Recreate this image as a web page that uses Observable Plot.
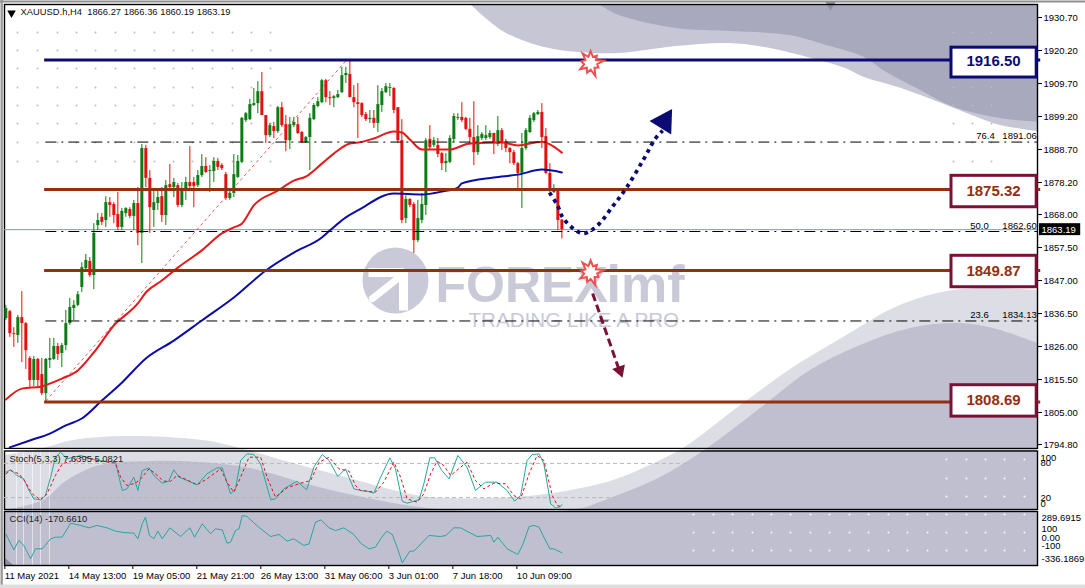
<!DOCTYPE html>
<html><head><meta charset="utf-8">
<script src="https://cdn.jsdelivr.net/npm/d3@7"></script>
<script src="https://cdn.jsdelivr.net/npm/@observablehq/plot@0.6"></script>
<style>html,body{margin:0;background:#fff;width:1085px;height:588px;overflow:hidden}#c{position:relative;width:1085px;height:588px}svg{position:absolute;left:0;background:transparent;max-width:none}</style>
</head><body><div id="c"></div>
<script>
const barOpen=[1834.9,1837.1,1830.1,1829.5,1835.2,1833.3,1822.2,1815.2,1821.9,1817.1,1811.0,1821.6,1821.9,1826.0,1823.8,1826.3,1833.3,1838.1,1839.1,1844.8,1850.8,1853.1,1848.6,1864.5,1867.1,1866.1,1871.8,1871.2,1868.0,1863.9,1868.3,1869.6,1867.4,1871.5,1862.0,1889.0,1879.5,1869.3,1871.5,1873.7,1867.7,1877.5,1876.6,1877.2,1870.9,1875.6,1878.2,1878.2,1877.2,1880.4,1883.3,1881.7,1881.7,1884.9,1883.6,1880.7,1873.1,1874.7,1879.8,1884.6,1897.9,1898.2,1902.7,1903.3,1907.1,1899.5,1893.1,1896.0,1894.4,1902.0,1896.6,1891.5,1896.3,1896.6,1894.1,1890.9,1892.5,1898.2,1902.4,1903.6,1910.6,1905.2,1904.9,1905.2,1906.8,1912.2,1912.6,1905.2,1903.6,1903.3,1899.8,1898.2,1898.6,1897.0,1902.7,1906.8,1908.1,1908.1,1902.0,1891.5,1866.7,1872.8,1871.2,1859.7,1866.1,1870.9,1891.9,1890.0,1890.0,1887.4,1884.2,1884.6,1891.9,1898.6,1898.9,1898.6,1895.1,1892.5,1887.7,1892.2,1892.2,1892.5,1893.8,1890.3,1894.7,1891.2,1889.0,1887.7,1884.2,1881.1,1889.0,1894.1,1897.9,1899.8,1900.5,1892.8,1881.1,1875.0,1875.6,1866.27];
const barHigh=[1839.1,1837.5,1832.0,1835.9,1843.5,1833.6,1822.8,1822.8,1822.2,1822.2,1822.2,1828.6,1828.6,1827.0,1827.0,1837.5,1841.3,1840.6,1843.5,1852.7,1855.3,1854.3,1865.1,1868.3,1868.3,1873.7,1873.4,1871.8,1875.0,1869.9,1870.2,1870.2,1872.5,1876.6,1890.3,1890.0,1882.0,1875.6,1875.6,1876.6,1878.8,1883.9,1879.5,1877.9,1878.2,1879.8,1889.6,1879.8,1882.0,1887.1,1886.1,1883.6,1886.1,1885.8,1884.2,1881.4,1875.6,1887.1,1886.8,1898.9,1900.5,1904.6,1908.1,1910.3,1913.2,1899.5,1897.0,1897.3,1902.4,1903.6,1899.5,1898.9,1898.9,1898.9,1894.4,1892.8,1900.1,1903.3,1905.2,1911.0,1911.0,1907.1,1905.9,1907.5,1914.8,1914.8,1917.0,1909.0,1909.7,1903.6,1900.5,1901.1,1901.1,1909.0,1908.1,1909.7,1909.7,1908.4,1902.0,1898.2,1874.0,1873.1,1871.8,1872.5,1874.7,1892.2,1896.3,1892.5,1892.2,1887.7,1887.4,1893.1,1900.1,1900.1,1903.6,1898.9,1898.6,1903.9,1896.3,1894.1,1896.3,1894.7,1893.8,1899.2,1895.4,1891.9,1889.3,1888.4,1884.6,1893.8,1895.4,1899.5,1900.5,1901.1,1903.3,1895.4,1884.2,1877.5,1876.0,1866.36];
const barLow=[1834.3,1828.9,1825.7,1827.0,1820.9,1818.7,1813.0,1813.3,1813.0,1810.4,1808.2,1819.0,1821.6,1821.6,1819.3,1824.7,1832.7,1834.3,1838.7,1843.2,1850.5,1848.0,1844.1,1862.9,1864.5,1863.9,1867.1,1865.1,1862.9,1862.9,1867.1,1866.7,1862.9,1858.1,1852.4,1876.6,1862.0,1863.9,1869.3,1865.5,1864.5,1875.6,1873.4,1870.2,1870.2,1872.5,1876.3,1870.2,1876.6,1879.8,1881.1,1875.0,1878.2,1882.0,1882.0,1872.5,1872.5,1873.4,1879.5,1884.2,1897.3,1897.9,1902.4,1900.1,1899.5,1890.6,1892.5,1892.2,1893.8,1895.7,1888.0,1888.7,1895.7,1893.5,1890.6,1890.6,1882.0,1897.9,1902.0,1903.3,1903.6,1902.7,1902.0,1904.9,1906.5,1909.7,1905.2,1902.0,1892.2,1898.9,1897.6,1897.0,1895.4,1894.1,1900.5,1906.5,1905.5,1900.1,1890.6,1865.1,1865.1,1870.2,1855.6,1859.1,1865.1,1867.7,1888.4,1889.3,1886.1,1882.0,1881.4,1884.2,1890.9,1897.9,1897.3,1894.7,1890.0,1883.6,1886.8,1891.5,1891.5,1891.9,1887.1,1889.6,1888.4,1887.7,1884.2,1883.6,1876.3,1869.9,1888.4,1893.8,1897.3,1899.5,1889.0,1880.7,1875.0,1874.7,1862.9,1860.19];
const barClose=[1838.1,1830.1,1829.8,1835.2,1833.3,1824.7,1815.2,1821.9,1815.2,1811.0,1821.9,1822.2,1826.0,1823.5,1826.3,1833.3,1838.4,1839.1,1842.5,1851.1,1853.4,1848.6,1862.0,1866.1,1865.5,1871.8,1870.9,1867.7,1863.9,1869.0,1869.9,1867.4,1871.5,1862.0,1889.0,1879.5,1870.2,1871.8,1873.4,1867.7,1877.2,1876.6,1878.2,1870.9,1875.6,1878.2,1876.9,1876.9,1880.4,1883.3,1881.4,1882.0,1884.9,1883.0,1882.6,1873.1,1874.7,1880.7,1884.9,1898.6,1900.1,1903.0,1903.3,1907.1,1899.5,1893.1,1896.3,1894.4,1902.0,1896.3,1891.5,1896.6,1897.3,1893.8,1890.9,1892.5,1898.6,1902.7,1903.9,1910.6,1905.2,1904.9,1905.5,1906.2,1912.2,1912.9,1905.2,1903.6,1903.0,1899.5,1898.2,1898.6,1897.0,1903.0,1907.1,1908.7,1908.4,1901.1,1891.5,1866.1,1872.8,1870.9,1859.7,1866.7,1871.2,1891.5,1889.3,1891.5,1887.1,1884.2,1884.9,1892.2,1899.2,1898.9,1897.9,1895.1,1892.5,1887.7,1892.8,1893.5,1893.1,1893.8,1890.6,1894.7,1890.9,1889.0,1887.7,1884.2,1881.1,1889.0,1894.7,1898.6,1900.1,1900.5,1892.5,1881.1,1875.6,1876.0,1866.1,1863.19];

const redMaBar=[0,4,9,11,14,18,22,27,33,35,39,43,49,54,57,59,62,68,72,75,79,82,86,88,92,97,99,101,104,111,116,124,128,134,136,139];
const redMaVal=[1809.1,1812.6,1813.3,1814.2,1815.8,1818.4,1824.1,1832.7,1839.7,1843.2,1847.0,1851.1,1856.6,1862.0,1863.9,1865.1,1870.9,1875.6,1878.8,1880.1,1884.2,1887.4,1890.6,1890.9,1892.2,1894.4,1894.1,1891.9,1888.7,1888.7,1890.6,1890.9,1890.0,1891.2,1890.3,1887.7];
const blueMaBar=[1,6,11,15,19,24,29,35,42,49,57,65,72,79,81,85,88,97,104,109,113,114,122,128,134,139];
const blueMaVal=[1793.9,1796.1,1798.3,1800.9,1803.1,1808.8,1814.5,1822.2,1827.9,1834.3,1841.6,1850.2,1855.9,1860.7,1862.9,1867.1,1869.3,1874.7,1874.4,1875.3,1876.6,1877.9,1879.8,1880.7,1882.3,1881.4];

const stochKBar=[0,1.2,2.8,4.5,5.8,7,8.7,9.9,11.2,12.4,13.7,15.3,18.7,22.8,27.4,29.1,30.3,32,33,34.1,35.8,37,39.1,40.7,42,43.3,45.3,47.8,50.3,52.8,54.1,56.2,57.4,58.7,60.3,62,63.7,66.2,67.4,69.5,72.8,75.2,77,79.1,80.8,83,84.9,87,88.7,90.3,92,93.7,96,97.4,99.1,100.3,103.3,104.5,106,107.2,109,110.8,113,115.3,117.4,119.9,122.8,125.3,127.2,128.7,130.3,131.6,133.3,134.5,136.2,137.5,138.7,139];
const stochKVal=[64.6,68.7,58.8,52.9,32.5,17.8,16.1,23.7,55.8,90.9,99.7,88,93.9,85.1,82.2,32.5,35.4,55.8,32.5,67.5,72.2,58.8,45.3,48.8,68.7,55.8,50,42.4,61.7,72.2,72.2,26.6,35.4,85.1,96.8,95.6,79.2,16.1,17.8,35.4,48.8,33.6,73.4,95.6,85.1,57,70.5,35.4,32.5,31.3,27.8,55.8,89.8,70.5,13.7,10.2,16.1,44.2,89.8,89.8,67.5,52.9,93.9,73.4,32.5,47.1,47.1,32.5,13.7,23.7,85.1,95.6,96.8,79.2,9.1,1.5,4.4,7.64];
const stochDBar=[0,1.2,3.3,4.9,6.6,8.7,10.3,12.4,14.1,16.2,19.5,23.7,27.4,28.7,30.3,32.4,33.7,35.8,37.4,39.5,41.2,42.8,45.3,47.8,50.3,53.7,55.3,57,58.7,60.8,63.7,65.3,67.4,70.3,73.7,76.2,78.3,80.8,83.3,85.8,87.4,88.7,90.3,92.4,94.5,97,98.7,100.3,102.8,104.5,106.2,107.8,109.5,111.2,113.7,115.3,117.4,119.5,122,124.9,127,128.7,130.8,132.8,134.5,136.6,137.9,138.7,139];
const stochDVal=[61.7,67.5,61.7,47.1,26.6,16.1,26.6,58.8,79.2,83.9,92.1,83.9,80.4,55.8,41.2,45.3,52.9,70.5,61.7,48.8,48.8,58.8,51.2,42.4,52.9,70.5,47.1,29.5,55.8,90.9,90.9,55.8,20.8,37.1,45.3,50,82.2,90.9,70.5,66.4,41.2,32.5,31.3,29.5,47.1,82.2,55.8,17.8,12,26.6,61.7,83.9,76.3,58.8,73.4,82.2,50,35.4,45.3,44.2,23.7,17.8,61.7,93.9,85.1,23.7,6.1,4.4,5.08];
const cciBar=[0,2,3.25,4.5,6.2,7.4,9.1,11.2,12.4,14.1,16.2,18.7,20.8,22.8,25.3,27.4,29.5,32,33,34.1,34.9,35.9,37,38,39.1,41,43.7,46,47.2,49.1,51.2,52.4,54.1,55.3,56.2,57.4,58.3,59.1,60.3,63.2,66.2,68.3,70.3,72,74.5,75.8,77.4,78.8,80.8,82.4,84.5,87,88.7,90.8,92.4,93.7,95.2,96.6,97.8,99.1,101,102,105.8,108.7,110,112,113.7,117.8,121.2,122,123,125.3,128,129.3,130.8,132,133.3,134.5,136,137,138.7,139];
const cciVal=[41,-139,-34,-90,-241,-128,-128,-15,4,4,162,136,109,136,109,72,56,49,-15,154,230,23,-15,72,-15,109,11,109,4,154,41,98,86,-64,-53,79,98,249,237,117,11,34,-41,-15,-90,-72,173,200,109,79,109,34,-64,-128,-109,-15,72,34,-109,-286,-154,-154,23,11,23,109,109,11,23,-53,4,-128,-192,-72,124,136,117,4,-128,-128,-166,-170.66];

const tickPrices=[1930.70,1920.20,1909.70,1899.20,1888.70,1878.20,1868.00,1857.50,1847.00,1836.50,1826.00,1815.50,1805.00,1794.80];
const timeTickBars=[0,16,32,48,64,80,96,112,128];
const timeTickLabels=["11 May 2021","14 May 13:00","19 May 05:00","21 May 21:00","26 May 13:00","31 May 06:00","3 Jun 01:00","7 Jun 18:00","10 Jun 09:00"];

const blueLabel=[1916.50];
const brownLabels=[1875.32,1849.87,1808.69];
const blueLineAt=[1917.2];
const brownLineAt=[1875.95,1850.2,1808.35];
const fibLevels=[1891.06,1862.60,1834.13];
const fibNames=["76.4","50.0","23.6"];
const fibNameBars=[247.2,245.7,245.7];
const lastPrice=1863.19;
const trendBars=[10,85], trendPrices=[1808.69,1916.9];
const starBars=[146.2,146.2], starPrices=[1916.2,1849.6];
const upPathBars=[135.9,137.9,139.4,142.9,144.7,147.9,151.7,155.2,159.4,162.4,164.2];
const upPathPrices=[1875.0,1870.9,1866.7,1862.6,1862.0,1864.5,1870.6,1876.6,1885.5,1892.2,1894.7];
const downPathBars=[146.7,153.2], downPathPrices=[1842.9,1819.0];

// backdrop wave outlines and dot rows
const topLightX=[471,488,506,544,578,619,676,728,770,811,845,864,901,954,977,1000,1037];
const topLightY=[5,20,33,47,52,53,46,43,48,58,68,77,88,108,117,125,131];
const topDarkX=[600,619,676,732,789,826,864,883,920,954,1000,1037];
const topDarkY=[5,15,28,31,35,45,57,70,90,107,118,122];
const lowLightX=[4,43,73,125,203,240,300,360,393,430,490,553,613,660,683,743,793,843,893,937,977,1037];
const lowLightY=[455,448,440,436,440,448,465,481,490,497,498,493,480,460,448,403,367,337,308,293,288,290];
const lowDarkX=[4,43,67,100,150,200,250,300,353,427,500,577,610,660,707,760,810,860,910,957,993,1037];
const lowDarkY=[510,500,480,465,461,462,468,482,495,508,511,509,498,477,448,408,370,345,328,323,328,343];
const wedgeX=[4,13], wedgeY=[557,565];
const grayDotX=[17,37,57,76,95,115,134,154,173,192,212,232,251,270,953,972,991];
const grayDotY=[32,50,68,87,105,123,142,161];
const panelDotX=[693,713,732,752,771,790,810,829,849,868,888,907,927,946,966,985,1004,1024];
const panelRowsCci=[514,532,550];
const panelRowsStoch=[459,478,496];
const panelDotXStoch=[946,966,985,1004,1024];
const glitchX=[16,23,32,40,49];

const zipXY=(xs,ys)=>xs.map((x,i)=>({x,y:ys[i]}));
const bars=barOpen.map((o,i)=>({i,o,h:barHigh[i],l:barLow[i],c:barClose[i],up:barClose[i]>=o}));
const UI="Liberation Sans, Arial, sans-serif", GREEN="#0c7c14", RED="#e3100f", TEAL="#2aa5a0", NAVY="#0b0b73", BROWN="#93300f", MAROON="#7a1238", WM="#c9c9d8", FS=9.5;
const cross=(xs,ys)=>ys.flatMap(y=>xs.map(x=>({x,y})));
const xDom=[-0.33,257.9];
const starRadii=[1,.55,.8,.5,1.1,.55,.75,.5,1.15,.55,.85,.5,1,.55,.8,.5,1.05,.55];
const starSym={draw(ctx,size){const R=Math.sqrt(size/Math.PI);starRadii.forEach((k,i)=>{const a=i/starRadii.length*2*Math.PI;const px=R*k*Math.sin(a),py=-R*k*Math.cos(a);i?ctx.lineTo(px,py):ctx.moveTo(px,py)});ctx.closePath()}};

const backdrop=Plot.plot({width:1085,height:588,margin:0,
  x:{domain:[0,1085],range:[0,1085],axis:null},y:{domain:[0,588],range:[0,588],axis:null},
  marks:[
    Plot.areaY(zipXY(topLightX,topLightY),{x:"x",y1:4,y2:"y",curve:"catmull-rom",fill:"#c6c6d4"}),
    Plot.areaY(zipXY(topDarkX,topDarkY),{x:"x",y1:4,y2:"y",curve:"catmull-rom",fill:"#a9a9be"}),
    Plot.dot([{x:830,y:4}],{x:"x",y:"y",symbol:"triangle",r:4,rotate:180,fill:"#8f8fa0"}),
    Plot.areaY(zipXY(lowLightX,lowLightY),{x:"x",y1:"y",y2:565,curve:"catmull-rom",fill:"#dddde5"}),
    Plot.areaY(zipXY(lowDarkX,lowDarkY),{x:"x",y1:"y",y2:565,curve:"catmull-rom",fill:"#c0bfcf"}),
    Plot.areaY(zipXY(wedgeX,wedgeY),{x:"x",y1:"y",y2:565,fill:"#8f8fa2"}),
    Plot.ruleX(glitchX,{y1:450,y2:565,stroke:"#fff",strokeOpacity:.55,strokeWidth:1}),
    Plot.dot(cross(grayDotX,grayDotY),{x:"x",y:"y",r:1,fill:"#bdbdbd"}),
    Plot.dot(cross(panelDotX,panelRowsCci),{x:"x",y:"y",r:1.1,fill:"#f4f4f8"}),
    Plot.dot(cross(panelDotXStoch,panelRowsStoch),{x:"x",y:"y",r:1.1,fill:"#f4f4f8"}),
    Plot.dot([{x:395,y:280}],{x:"x",y:"y",r:33,fill:WM}),
    Plot.line(zipXY([368,403,403],[272,272,310]),{x:"x",y:"y",stroke:"#fff",strokeWidth:9,strokeLinecap:"butt",strokeLinejoin:"miter"}),
    Plot.line(zipXY([372,396],[298,279]),{x:"x",y:"y",stroke:"#fff",strokeWidth:7}),
    Plot.text(["FOREX"],{x:435,y:285,textAnchor:"start",fontFamily:UI,fontWeight:900,fontSize:50,fill:WM}),
    Plot.text(["imf"],{x:606,y:285,textAnchor:"start",fontFamily:UI,fontWeight:900,fontSize:52,fill:WM}),
    Plot.text(["TRADING LIKE A PRO"],{x:468,y:320,textAnchor:"start",fontFamily:UI,fontSize:20.6,fill:WM}),
    Plot.ruleX([1.2],{stroke:"#9a9a9a",strokeWidth:2.4}),
    Plot.ruleY([1],{stroke:"#8f8f8f",strokeWidth:2}),
    Plot.ruleY([586],{stroke:"#dedede",strokeWidth:4})
  ]});

const arrowHead=[{x:164.6,y:1897.6}];
const main=Plot.plot({width:1085,height:449,marginTop:4,marginBottom:1,marginLeft:4,marginRight:48,
  x:{domain:xDom,axis:null},y:{domain:[1793.55,1934.84],axis:null},
  marks:[
    Plot.frame({stroke:"#000",strokeWidth:1.4}),
    Plot.axisY(tickPrices,{anchor:"right",tickSize:4,tickPadding:2,label:null,tickFormat:d=>d.toFixed(2),fontFamily:UI,fontSize:FS,fill:"#000"}),
    Plot.ruleY([lastPrice],{stroke:"#8797a8",strokeWidth:1}),
    Plot.ruleX(bars,{x:"i",y1:"l",y2:"h",stroke:d=>d.up?GREEN:RED,strokeWidth:1}),
    Plot.ruleX(bars,{x:"i",y1:"o",y2:"c",stroke:d=>d.up?GREEN:RED,strokeWidth:3}),
    Plot.line(zipXY(trendBars,trendPrices),{x:"x",y:"y",stroke:"#e03030",strokeWidth:.8,strokeDasharray:"3 3",strokeLinecap:"butt"}),
    Plot.line(zipXY(redMaBar,redMaVal),{x:"x",y:"y",stroke:"#e41a1a",strokeWidth:2,curve:"monotone-x"}),
    Plot.line(zipXY(blueMaBar,blueMaVal),{x:"x",y:"y",stroke:"#0c0ca8",strokeWidth:2,curve:"monotone-x"}),
    Plot.ruleY(fibLevels,{x1:10,x2:xDom[1],stroke:"#000",strokeWidth:1,strokeDasharray:"11 5 2 5"}),
    Plot.ruleY(blueLineAt,{x1:9.7,x2:258.7,stroke:NAVY,strokeWidth:3}),
    Plot.ruleY(brownLineAt,{x1:9.7,x2:258.7,stroke:BROWN,strokeWidth:3}),
    Plot.text(fibLevels,{x:(d,i)=>fibNameBars[i],y:d=>d,dy:-6,text:(d,i)=>fibNames[i],textAnchor:"end",fontFamily:UI,fontSize:FS,fill:"#000"}),
    Plot.text(fibLevels,{x:257.7,y:d=>d,dy:-6,text:d=>d.toFixed(2),textAnchor:"end",fontFamily:UI,fontSize:FS,fill:"#000"}),
    Plot.rect(blueLabel,{x1:236.4,x2:257.7,y1:d=>d-4.9,y2:d=>d+4.6,fill:"#fff",stroke:NAVY,strokeWidth:3}),
    Plot.rect(brownLabels,{x1:236.4,x2:257.7,y1:d=>d-5,y2:d=>d+5,fill:"#fff",stroke:MAROON,strokeWidth:3}),
    Plot.text(blueLabel,{x:246.9,y:d=>d+.2,text:d=>d.toFixed(2),fontFamily:UI,fontWeight:700,fontSize:15,fill:NAVY}),
    Plot.text(brownLabels,{x:246.9,y:d=>d+.2,text:d=>d.toFixed(2),fontFamily:UI,fontWeight:700,fontSize:15,fill:BROWN}),
    Plot.line(zipXY(upPathBars,upPathPrices),{x:"x",y:"y",stroke:NAVY,strokeWidth:3.8,strokeDasharray:"3.8 4.2",strokeLinecap:"butt",curve:"catmull-rom"}),
    Plot.dot(arrowHead,{x:"x",y:"y",symbol:"triangle",r:9.5,rotate:32,fill:NAVY}),
    Plot.line(zipXY(downPathBars,downPathPrices),{x:"x",y:"y",stroke:MAROON,strokeWidth:3,strokeDasharray:"8 4",strokeLinecap:"butt"}),
    Plot.dot([{x:153.5,y:1818.4}],{x:"x",y:"y",symbol:"triangle",r:5,rotate:160,fill:MAROON}),
    Plot.dot(zipXY(starBars,starPrices),{x:"x",y:"y",symbol:starSym,r:12,fill:"#fff",stroke:"#f05050",strokeWidth:2}),
    Plot.rect([lastPrice],{x1:258.4,x2:268.7,y1:d=>d-1.9,y2:d=>d+1.9,fill:"#000"}),
    Plot.text([lastPrice],{x:258.9,y:d=>d,text:d=>d.toFixed(2),textAnchor:"start",fontFamily:UI,fontSize:FS,fill:"#fff"}),
    Plot.dot([0],{frameAnchor:"top-left",dx:7,dy:8.5,symbol:"triangle",r:3.2,rotate:180,fill:"#000"}),
    Plot.text(["XAUUSD.h,H4\u00a0\u00a01866.27 1866.36 1860.19 1863.19"],{frameAnchor:"top-left",dx:16,dy:4,textAnchor:"start",fontFamily:UI,fontSize:9.4,fill:"#111"})
  ]});
main.style.top="0px";

const stochDashEnds=[171,152.5];
const stoch=Plot.plot({width:1085,height:60,marginTop:.5,marginBottom:1,marginLeft:4,marginRight:48,
  x:{domain:xDom,axis:null},y:{domain:[-0.9,101.8],axis:null},
  marks:[
    Plot.frame({stroke:"#000",strokeWidth:1.4}),
    Plot.ruleY([80,20],{stroke:"#b8b8b8",strokeWidth:1,strokeDasharray:"4 3",x1:xDom[0],x2:(d,i)=>stochDashEnds[i]}),
    Plot.line(zipXY(stochKBar,stochKVal),{x:"x",y:"y",stroke:TEAL,strokeWidth:1}),
    Plot.line(zipXY(stochDBar,stochDVal),{x:"x",y:"y",stroke:"#e01010",strokeWidth:1,strokeDasharray:"3 2.5",strokeLinecap:"butt"}),
    Plot.text([100],{x:xDom[1],y:d=>d,dx:3,dy:5.5,text:d=>String(d),textAnchor:"start",fontFamily:UI,fontSize:FS,fill:"#000"}),
    Plot.text([80,20],{x:xDom[1],y:d=>d,dx:3,text:d=>String(d),textAnchor:"start",fontFamily:UI,fontSize:FS,fill:"#000"}),
    Plot.text([0],{x:xDom[1],y:d=>d,dx:3,dy:-5.5,text:d=>String(d),textAnchor:"start",fontFamily:UI,fontSize:FS,fill:"#000"}),
    Plot.text(["Stoch(5,3,3) 7.6395 5.0821"],{frameAnchor:"top-left",dx:5,dy:4,textAnchor:"start",fontFamily:UI,fontSize:9.4,fill:"#222"})
  ]});
stoch.style.top="450px";

const cci=Plot.plot({width:1085,height:78,marginTop:1,marginBottom:23,marginLeft:4,marginRight:48,
  x:{domain:xDom,axis:null},y:{domain:[-316.4,293.8],axis:null},
  marks:[
    Plot.frame({stroke:"#000",strokeWidth:1.4}),
    Plot.axisX(timeTickBars,{anchor:"bottom",tickSize:4,tickPadding:3,label:null,tickFormat:(d,i)=>timeTickLabels[i],textAnchor:"start",dx:-1,fontFamily:UI,fontSize:FS,fill:"#000"}),
    Plot.line(zipXY(cciBar,cciVal),{x:"x",y:"y",stroke:TEAL,strokeWidth:1}),
    Plot.text([289.6915],{x:xDom[1],y:d=>d,dx:4,dy:6.5,text:d=>d.toFixed(4),textAnchor:"start",fontFamily:UI,fontSize:FS,fill:"#000"}),
    Plot.text([100,-100],{x:xDom[1],y:d=>d,dx:4,text:d=>String(d),textAnchor:"start",fontFamily:UI,fontSize:FS,fill:"#000"}),
    Plot.text([0],{x:xDom[1],y:d=>d,dx:4,text:d=>d.toFixed(2),textAnchor:"start",fontFamily:UI,fontSize:FS,fill:"#000"}),
    Plot.text([-336.1869],{x:xDom[1],y:d=>d,dx:4,dy:-8,text:d=>d.toFixed(4),textAnchor:"start",fontFamily:UI,fontSize:FS,fill:"#000"}),
    Plot.text(["CCI(14) -170.6610"],{frameAnchor:"top-left",dx:5,dy:4,textAnchor:"start",fontFamily:UI,fontSize:9.4,fill:"#222"})
  ]});
cci.style.top="510px";

const host=document.getElementById("c");
backdrop.style.top="0px";
[backdrop,main,stoch,cci].forEach(s=>host.appendChild(s));
</script></body></html>
